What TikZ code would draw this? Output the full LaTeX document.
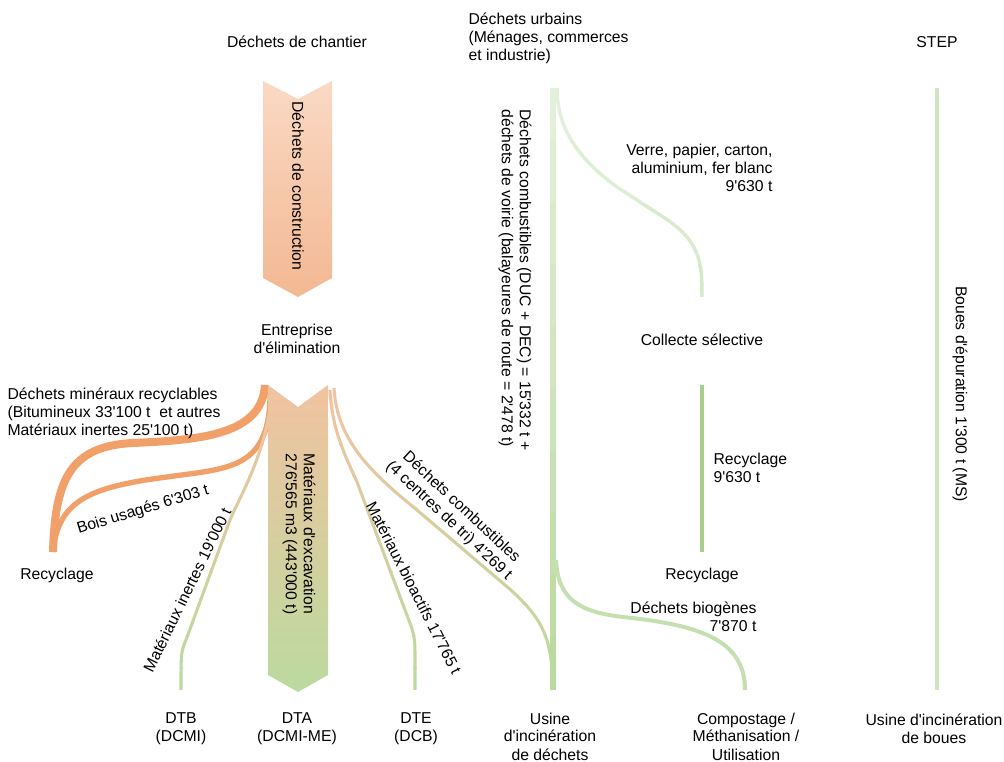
\documentclass[tikz,border=0pt]{standalone}
\usepackage{fontspec}
\setmainfont{Liberation Sans}[Ligatures=TeXOff]
\usepackage{xcolor}
\usetikzlibrary{positioning}

\definecolor{peachA}{HTML}{FAD9C3}
\definecolor{peachB}{HTML}{F3B893}
\definecolor{orangeflow}{HTML}{F2A06A}
\definecolor{tanflow}{HTML}{F1C3A0}
\definecolor{tanmid}{HTML}{DCC99D}
\definecolor{greenflow}{HTML}{BBDA9F}
\definecolor{palegreen}{HTML}{E2F0D9}
\definecolor{midgreen}{HTML}{C4E0B1}
\definecolor{darkgreen}{HTML}{A6CF8B}
\definecolor{stepgreen}{HTML}{CDE4BE}

\begin{document}
\begin{tikzpicture}[x=0.75pt, y=-0.75pt,
  every node/.style={inner sep=1pt},
  lbl/.style={font=\fontsize{11.8}{13.5}\selectfont, align=center},
  orflow/.style={draw=orangeflow, line width=#1},
  thinflow/.style={line width=2.3pt}]
\useasboundingbox (0,0) rectangle (1004,762);

% sources
\node[lbl] (chantier) at (297,42) {Déchets de chantier};
\node[lbl, align=left, anchor=west] (urbains) at (467,38)
  {Déchets urbains\\(Ménages, commerces\\et industrie)};
\node[lbl] (step) at (937,42) {STEP};

% construction waste
\shade[top color=peachA, bottom color=peachB]
  (263,81) -- (298,99) -- (332,81) -- (332,278) -- (298,297) -- (263,278) -- cycle;
\node[lbl, rotate=-90] (constr) at (298,186) {Déchets de construction};
\node[lbl] (entreprise) at (297,339) {Entreprise\\d'élimination};

% flow end points
\coordinate (cMin) at (265,385);
\coordinate (cBois) at (270,388);
\coordinate (cInert) at (272,390);
\coordinate (cBio) at (330,390);
\coordinate (cComb) at (334,388);
\coordinate (recy) at (53,552);
\coordinate (dtb) at (181,690);
\coordinate (dte) at (415,690);
\coordinate (uTop) at (553,88);
\coordinate (uVerre) at (557,88);
\coordinate (uid) at (553,690);
\coordinate (collecte) at (702,297);
\coordinate (rTop) at (702,385);
\coordinate (rBot) at (702,552);
\coordinate (uBio) at (556,560);
\coordinate (compost) at (745,690);
\coordinate (sTop) at (937,88);
\coordinate (sBot) at (937,690);

% recycling flows
\draw[orflow=6pt] (cMin) .. controls (262,435) and (200,440) .. (133,443)
  .. controls (70,446) and (55,480) .. (recy);
\draw[orflow=4pt] (cBois) .. controls (272,470) and (230,468) .. (167,477)
  .. controls (90,487) and (58,500) .. (recy);

% thin flows, orange to green
\foreach \i [evaluate=\i as \p using int(\i*11)] in {0,...,9} {
  \begin{scope}
    \clip (0,380+\i*32) rectangle (1004,413+\i*32);
    \draw[thinflow, draw=greenflow!\p!tanflow] (cInert) .. controls (268,450) and (241,494) .. (230,520)
      -- (186,640) .. controls (181,652) .. (dtb);
    \draw[thinflow, draw=greenflow!\p!tanflow] (cBio) .. controls (332,430) and (345,455) .. (357,482)
      -- (405,610) .. controls (415,636) .. (415,660) -- (dte);
    \draw[thinflow, draw=greenflow!\p!tanflow] (cComb) .. controls (337,440) and (370,472) .. (417,510)
      -- (505,585) .. controls (545,619) and (552,640) .. (uid);
  \end{scope}
}

% excavation
\shade[top color=tanflow, middle color=tanmid, bottom color=greenflow]
  (268,385) -- (298,407) -- (328,385) -- (328,675) -- (298,692) -- (268,675) -- cycle;
\node[lbl, rotate=-90, align=left] (excav) at (299,534)
  {Matériaux d'excavation\\276'565 m3 (443'000 t)};

% urban waste flows
\foreach \i [evaluate=\i as \p using int(\i*11)] in {0,...,9} {
  \begin{scope}
    \clip (0,80+\i*62) rectangle (1004,143+\i*62);
    \draw[line width=4pt, draw=greenflow!\p!palegreen] (uTop) -- (uid);
    \draw[line width=2.6pt, draw=greenflow!\p!palegreen] (uVerre) .. controls (557,130) and (580,160) .. (617,187)
      -- (660,215) .. controls (700,240) and (702,260) .. (collecte);
  \end{scope}
}
\draw[line width=3pt, darkgreen] (rTop) -- (rBot);
\draw[line width=3pt, midgreen] (uBio) .. controls (558,600) and (580,612) .. (623,617)
  .. controls (700,625) and (745,640) .. (compost);
\draw[line width=3pt, stepgreen] (sTop) -- (sBot);

% labels
\node[lbl, align=left, anchor=west] (mineraux) at (6,413)
  {Déchets minéraux recyclables\\(Bitumineux 33'100 t\ \ et autres\\Matériaux inertes 25'100 t)};
\node[lbl] (recycC) at (57,575) {Recyclage};
\node[lbl, rotate=17] (bois) at (143,510) {Bois usagés 6'303 t};
\node[lbl, rotate=64] (inertes) at (187,590) {Matériaux inertes 19'000 t};
\node[lbl, rotate=-63] (bioact) at (414,588) {Matériaux bioactifs 17'765 t};
\node[lbl, rotate=-43] (combust) at (455,514)
  {Déchets combustibles\\(4 centres de tri) 4'269 t};
\node[lbl, rotate=-90, align=left] (duc) at (515,280)
  {Déchets combustibles (DUC + DEC) = 15'332 t +\\déchets de voirie (balayeures de route = 2'478 t)};
\node[lbl, align=right, anchor=east] (verre) at (774,168)
  {Verre, papier, carton,\\aluminium, fer blanc\\9'630 t};
\node[lbl] (collecteL) at (702,340) {Collecte sélective};
\node[lbl, align=left, anchor=west] (recycl9) at (712,468) {Recyclage\\9'630 t};
\node[lbl] (recycU) at (702,575) {Recyclage};
\node[lbl, align=right, anchor=east] (biog) at (758,617) {Déchets biogènes\\7'870 t};
\node[lbl, rotate=-90] (boues) at (960,394) {Boues d'épuration 1'300 t (MS)};

% sinks
\node[lbl] (dtbL) at (181,729) {DTB\\(DCMI)};
\node[lbl] (dtaL) at (297,729) {DTA\\(DCMI-ME)};
\node[lbl] (dteL) at (416,729) {DTE\\(DCB)};
\node[lbl, anchor=north] (uidL) at (550,711) {Usine\\d'incinération\\de déchets};
\node[lbl, anchor=north] (compL) at (746,711) {Compostage /\\Méthanisation /\\Utilisation};
\node[lbl] (uibL) at (934,729) {Usine d'incinération\\de boues};
\end{tikzpicture}
\end{document}
